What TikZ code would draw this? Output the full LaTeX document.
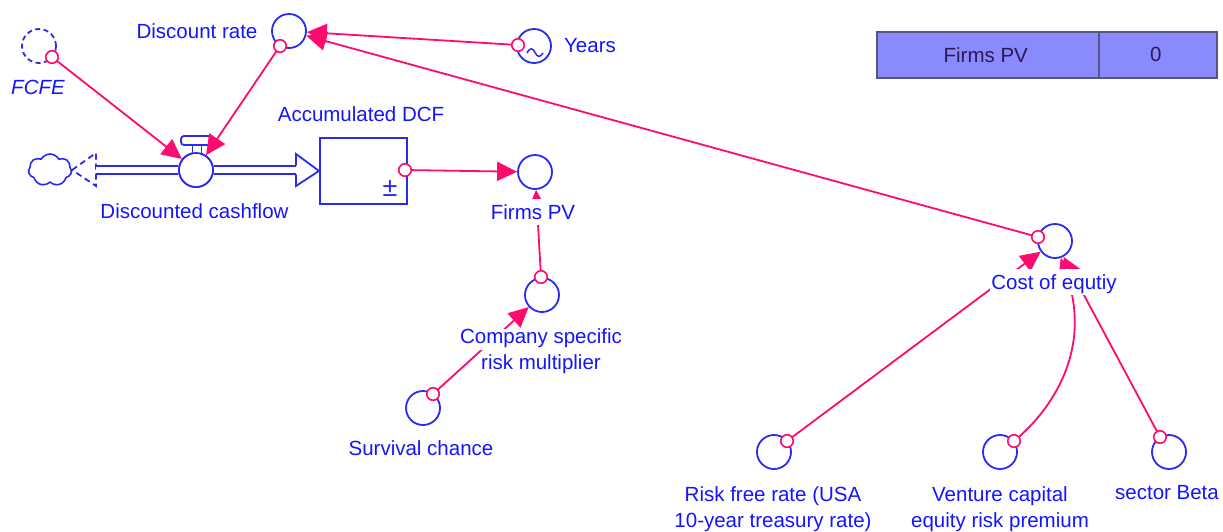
\documentclass[tikz,border=0pt]{standalone}
\usepackage{fontspec}
\setmainfont{Liberation Sans}
\usetikzlibrary{arrows.meta,shapes.symbols}
\definecolor{sblue}{HTML}{2A2AF0}
\definecolor{stext}{HTML}{1414FF}
\definecolor{spink}{HTML}{FF0A6E}
\definecolor{sfill}{HTML}{8A8AFF}
\definecolor{sedge}{HTML}{55557F}
\definecolor{sink}{HTML}{2A1A50}
\newcommand{\maskline}[1]{{\setlength{\fboxsep}{0pt}\colorbox{white}{\rule[-6pt]{0pt}{19.5pt}#1}}}
\tikzset{
  vensim/.style={x=1pt,y=-1pt,font=\fontsize{20.5}{25.5}\selectfont},
  aux/.style={circle,draw=sblue,fill=white,line width=1.8pt,minimum size=34pt,inner sep=0pt},
  ghost/.style={aux,dashed,dash pattern=on 5pt off 3.5pt},
  port/.style={circle,draw=spink,fill=white,line width=1.6pt,minimum size=12.5pt,inner sep=0pt},
  link/.style={draw=spink,line width=1.8pt,-{Triangle[length=20pt,width=19pt]}},
  lab/.style={text=stext,inner sep=0pt,anchor=base},
  masked/.style={lab,fill=white,inner xsep=1.5pt,text height=20pt,text depth=6pt},
  twoline/.style={text=stext,inner sep=0pt,align=center,anchor=center},
  pipe/.style={draw=sblue,line width=1.8pt,double=white,double distance=6.8pt},
  wire/.style={draw=sblue,line width=1.8pt},
  dashwire/.style={wire,dashed,dash pattern=on 6pt off 4pt},
  cellbox/.style={draw=sedge,fill=sfill,line width=1.5pt,minimum height=46pt,inner sep=0pt,text=sink,anchor=north west},
}
\begin{document}
\begin{tikzpicture}[vensim]
\useasboundingbox (0,0) rectangle (1223,531);
% stock
\node[wire,draw=sblue,fill=white,minimum width=87pt,minimum height=66pt,inner sep=0pt,anchor=north west] (stock) at (319,137) {};
% flow
\node[cloud,cloud puffs=7,cloud puff arc=120,draw=sblue,line width=1.6pt,minimum width=43pt,minimum height=32pt,inner sep=0pt,aspect=1.3] (source) at (50,170) {};
\coordinate (pipeL) at (96,170);
\coordinate (pipeR) at (297,170);
\coordinate (headT) at (296,154);
\coordinate (headB) at (296,186);
\coordinate (dashT) at (96,153);
\coordinate (dashB) at (96,186);
\draw[dashwire] (source.east) -- (dashT) -- (dashB) -- (source.east);
\node[aux] (valve) at (196,170) {};
\draw[pipe] (pipeL) -- (valve.west);
\draw[pipe] (valve.east) -- (pipeR);
\fill[white] (headT) -- (stock.west) -- (headB) -- cycle;
\draw[wire,line join=miter] (296,165.7) -- (headT) -- (stock.west) -- (headB) -- (296,174.3);
% valve top
\node[draw=sblue,fill=white,line width=1.8pt,minimum width=9pt,minimum height=12pt,inner sep=0pt] (stem) at (197,150) {};
\node[draw=sblue,fill=white,line width=1.8pt,rounded corners=3pt,minimum width=30pt,minimum height=9pt,inner sep=0pt] (handle) at (196,140.5) {};
\node[aux] (valve2) at (196,170) {};
% variables
\node[ghost] (fcfe) at (39,46) {};
\node[aux] (disc) at (289,31) {};
\node[aux] (years) at (534,46) {};
\node[aux] (firms) at (535,172) {};
\node[aux] (company) at (542,295) {};
\node[aux] (survival) at (423,408) {};
\node[aux] (cost) at (1055,241) {};
\node[aux] (risk) at (774,452) {};
\node[aux] (venture) at (1000,452) {};
\node[aux] (beta) at (1169,452) {};
\draw[draw=sblue,line width=1.5pt] (527,53) .. controls (530,47) and (533,48) .. (535,52.5) .. controls (537,57) and (540,58) .. (543,53);
% ports
\coordinate (pFcfe) at (52,57);
\coordinate (pDisc) at (280,46);
\coordinate (pYears) at (518,45);
\coordinate (pStock) at (405,170);
\coordinate (pCompany) at (541,277);
\coordinate (pSurvival) at (433,394);
\coordinate (pCost) at (1038,237);
\coordinate (pRisk) at (787,441);
\coordinate (pVenture) at (1014,441);
\coordinate (pBeta) at (1160,437);
% connectors
\draw[link] (pFcfe) -- (valve2);
\draw[link] (pDisc) -- (valve2);
\draw[link] (pYears) -- (disc);
\draw[link] (pCost) -- (disc);
\draw[link] (pStock) -- (firms);
\draw[link] (pCompany) -- (firms);
\draw[link] (pSurvival) -- (company);
\draw[link] (pRisk) -- (cost);
\draw[link] (pBeta) -- (cost);
\draw[link] (pVenture) .. controls (1052,410) and (1092,350) .. (cost);
% labels
\node[lab] (lDisc) at (197,38) {Discount rate};
\node[lab] (lYears) at (590,52) {Years};
\node[lab] at (38,94) (lFcfe) {\itshape FCFE};
\node[lab] (lAcc) at (361,121) {Accumulated DCF};
\node[lab] (lFlow) at (194.5,218) {Discounted cashflow};
\node[masked] (lFirms) at (533,219) {Firms PV};
\node[twoline] (lCompany) at (541,352) {\maskline{Company specific}\\\maskline{risk multiplier}};
\node[lab] (lSurvival) at (421,455) {Survival chance};
\node[masked] (lCost) at (1054,289) {Cost of equtiy};
\node[twoline] (lRisk) at (773,509) {Risk free rate (USA\\10-year treasury rate)};
\node[twoline] (lVenture) at (1000,509) {Venture capital\\equity risk premium};
\node[lab] (lBeta) at (1167,499) {sector Beta};
\node[text=sblue,inner sep=0pt,font=\fontsize{27}{27}\selectfont] (pm) at (390,188) {±};
% port markers on top
\node[port] at (pFcfe) {};
\node[port] at (pDisc) {};
\node[port] at (pYears) {};
\node[port] at (pStock) {};
\node[port] at (pCompany) {};
\node[port] at (pSurvival) {};
\node[port] at (pCost) {};
\node[port] at (pRisk) {};
\node[port] at (pVenture) {};
\node[port] at (pBeta) {};
% table
\node[cellbox,minimum width=222pt] (cellName) at (876,31) {\hspace*{-4pt}Firms PV};
\node[cellbox,minimum width=118pt] (cellValue) at (1098,31) {\hspace*{-4pt}0};
\end{tikzpicture}
\end{document}
